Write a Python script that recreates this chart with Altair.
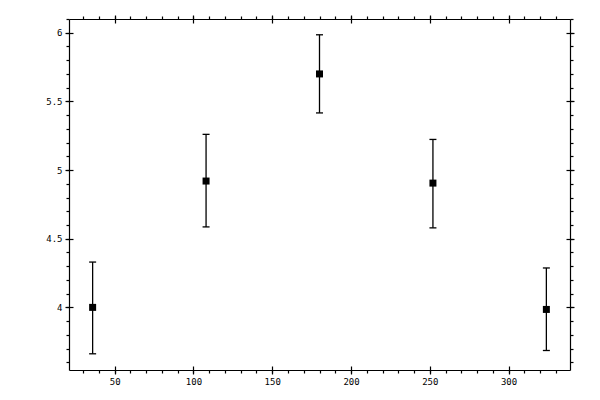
import altair as alt
import pandas as pd

# data
xs = [36, 108, 180, 252, 324]
ys = [4.00, 4.92, 5.70, 4.905, 3.985]
hi = [4.33, 5.26, 5.985, 5.223, 4.287]
lo = [3.662, 4.586, 5.416, 4.579, 3.686]

x_major = [50, 100, 150, 200, 250, 300]
x_minor = [30, 40, 50, 60, 70, 80, 90, 100, 110, 120, 130, 140, 150, 160, 170, 180,
           190, 200, 210, 220, 230, 240, 250, 260, 270, 280, 290, 300, 310, 320, 330]
y_major = [4.0, 4.5, 5.0, 5.5, 6.0]
y_minor = [3.6, 3.7, 3.8, 3.9, 4.0, 4.1, 4.2, 4.3, 4.4, 4.5, 4.6, 4.7, 4.8, 4.9, 5.0,
           5.1, 5.2, 5.3, 5.4, 5.5, 5.6, 5.7, 5.8, 5.9, 6.0, 6.1]

df = pd.DataFrame({"x": xs, "y": ys, "hi": hi, "lo": lo})

xscale = alt.Scale(domain=[21, 339], nice=False, zero=False)
yscale = alt.Scale(domain=[3.544, 6.10], nice=False, zero=False)

FONT = "DejaVu Sans Mono"

def main_axis(orient, values, labels, expr):
    kw = dict(orient=orient, values=values, tickSize=3, grid=False, domain=True,
              domainColor="black", tickColor="black", domainWidth=1.2, tickWidth=1.2,
              labels=labels, title=None)
    if labels:
        kw.update(labelExpr=expr, labelFont=FONT, labelFontSize=9, labelColor="black",
                  labelPadding=4)
    return alt.Axis(**kw)

def cross_axis(orient, values):
    return alt.Axis(orient=orient, values=values, tickSize=8, offset=-4, grid=False,
                    domain=False, labels=False, tickColor="black", tickWidth=1.2, title=None)

xlab = "datum.value % 50 == 0 ? format(datum.value, 'd') : ''"
ylab = "abs(datum.value*2 - round(datum.value*2)) < 0.001 ? format(datum.value, '~g') : ''"

base = alt.Chart(df)

rules = base.mark_rule(color="black", strokeWidth=1.3).encode(
    x=alt.X("x:Q", scale=xscale, axis=main_axis("bottom", x_minor, True, xlab)),
    y=alt.Y("lo:Q", scale=yscale, axis=main_axis("left", y_minor, True, ylab)),
    y2="hi:Q",
)

cap_hi = base.mark_tick(color="black", orient="horizontal", size=7, thickness=1.3,
                        opacity=1).encode(
    x=alt.X("x:Q", scale=xscale, axis=cross_axis("bottom", x_major)),
    y=alt.Y("hi:Q", scale=yscale, axis=cross_axis("left", y_major)),
)

cap_lo = base.mark_tick(color="black", orient="horizontal", size=7, thickness=1.3,
                        opacity=1).encode(
    x=alt.X("x:Q", scale=xscale, axis=main_axis("top", x_minor, False, xlab)),
    y=alt.Y("lo:Q", scale=yscale, axis=main_axis("right", y_minor, False, ylab)),
)

points = base.mark_square(color="black", size=49, opacity=1, filled=True).encode(
    x=alt.X("x:Q", scale=xscale, axis=cross_axis("top", x_major)),
    y=alt.Y("y:Q", scale=yscale, axis=cross_axis("right", y_major)),
)

chart = alt.layer(rules, cap_hi, cap_lo, points).resolve_axis(
    x="independent", y="independent"
).properties(
    width=501, height=351,
    padding={"left": 61, "top": 11, "right": 20, "bottom": 22},
    autosize="none",
).configure_view(strokeWidth=0)

chart.save("out.html", embed_options={"renderer": "svg", "actions": False})
